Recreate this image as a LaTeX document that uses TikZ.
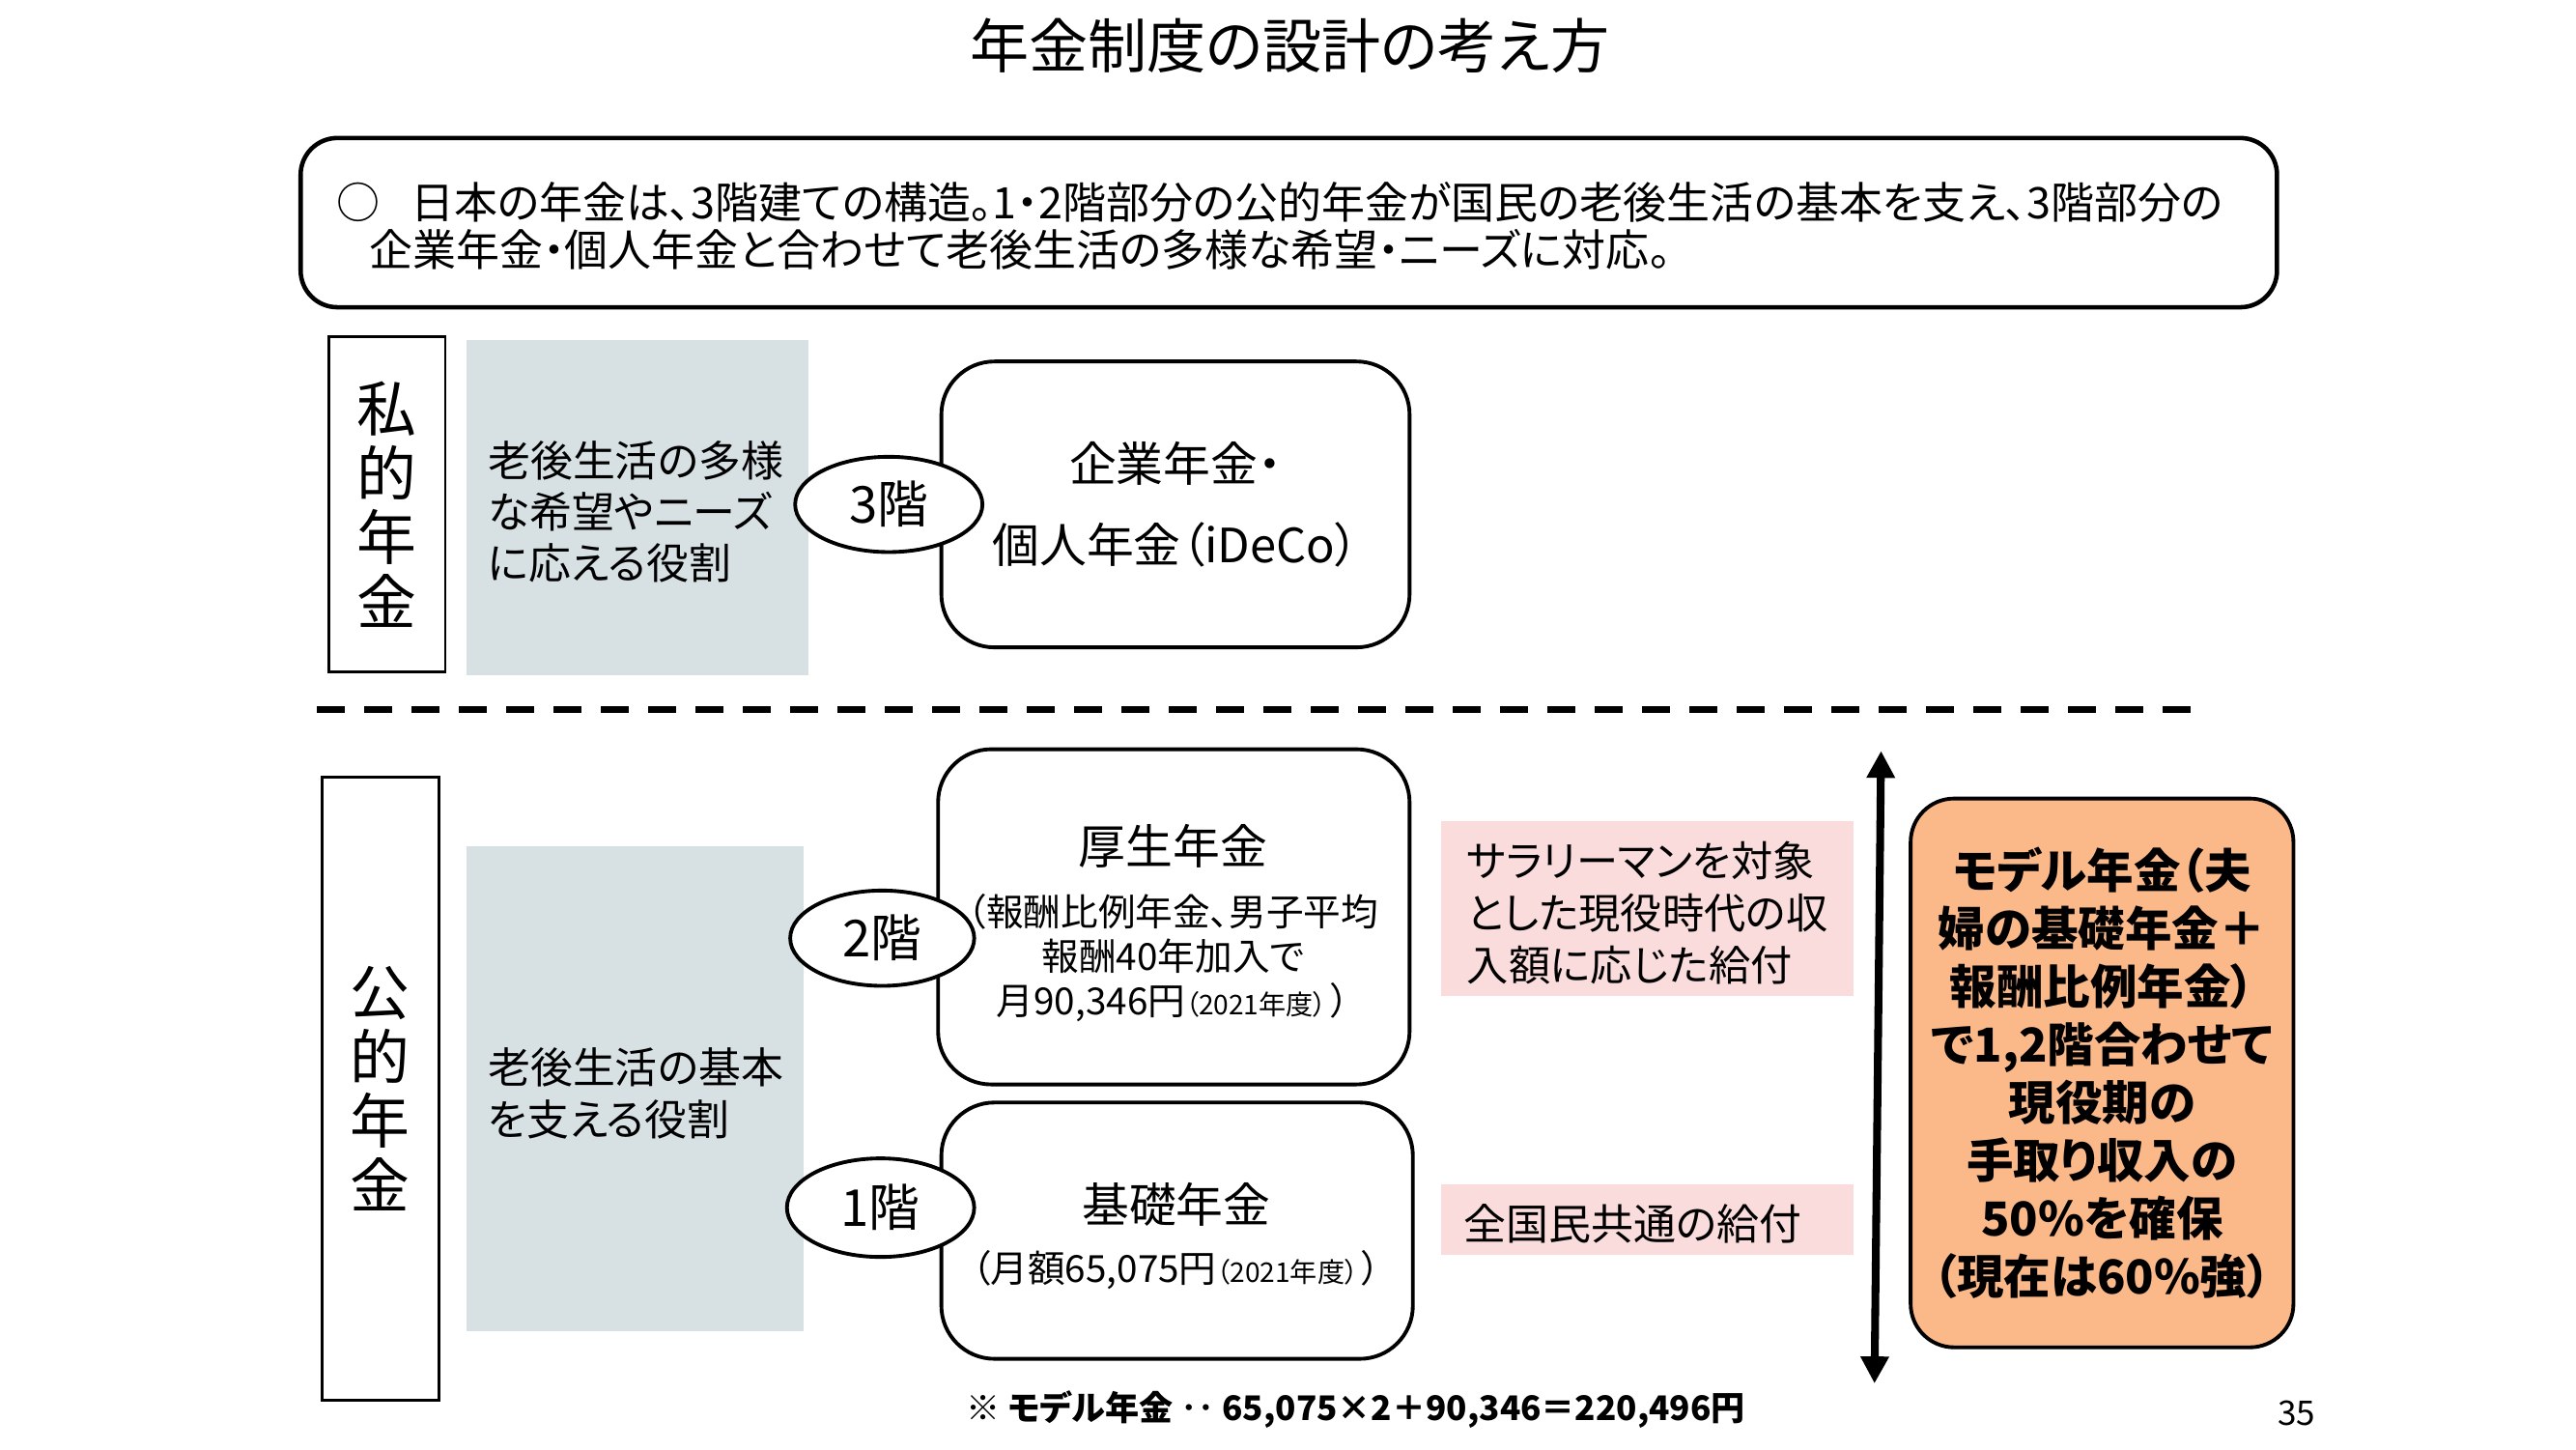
\documentclass[tikz,border=0pt]{standalone}
\usepackage{fontspec}
\setmainfont{Noto Sans CJK JP}[RawFeature=+palt]
\usetikzlibrary{shapes.geometric,arrows.meta}

\definecolor{rolegray}{RGB}{215,225,228}
\definecolor{notepink}{RGB}{250,220,220}
\definecolor{modelorange}{RGB}{251,185,138}

\newcommand{\un}{0.01701cm}
\newcommand{\setfs}[2]{\fontsize{#1}{#2}\selectfont}

\begin{document}
\begin{tikzpicture}[x=0.01701cm, y=-0.01701cm,
  every node/.style={inner sep=0pt, outer sep=0pt},
  overviewbox/.style={draw, line width=1.3pt, rounded corners=0.38cm, minimum width=1203*\un, minimum height=103*\un},
  pillar/.style={draw, line width=0.8pt, minimum width=71*\un, align=center, font=\setfs{17.6}{19}},
  rolebox/.style={fill=rolegray},
  roletext/.style={anchor=west, align=left, font=\setfs{12.5}{15.2}},
  tierbox/.style={draw, line width=1.1pt, rounded corners=0.55cm, fill=white},
  tiername/.style={font=\setfs{13.9}{16}},
  tierdetail/.style={align=center, font=\setfs{11}{13.1}},
  floor/.style={ellipse, draw, line width=1.1pt, fill=white, minimum width=114*\un, minimum height=58*\un, font=\setfs{15}{18}},
  notebox/.style={fill=notepink},
  modelbox/.style={draw, line width=1.1pt, rounded corners=0.45cm, fill=modelorange, minimum width=233*\un, minimum height=334*\un, align=center, font=\setfs{13.8}{17.1}\bfseries},
  dblarrow/.style={line width=2.3pt, {Triangle[width=0.28cm,length=0.28cm]}-{Triangle[width=0.28cm,length=0.28cm]}},
  divider/.style={line width=2pt, dash pattern=on 0.29cm off 0.2cm}]
\useasboundingbox (0,0) rectangle (1568,882);

% title and overview
\node[font=\setfs{17.4}{20}] (title) at (785,28) {年金制度の設計の考え方};
\node[overviewbox] (overview) at (784.5,135.5) {};
\node[anchor=west, align=left, font=\setfs{12.8}{14}] (overviewtext) at (205,137.5)
  {○\hspace{0.7em}日本の年金は、3階建ての構造。1・2階部分の公的年金が国民の老後生活の基本を支え、3階部分の\\\hspace{0.75em}企業年金・個人年金と合わせて老後生活の多様な希望・ニーズに対応。};

% private pension (3rd floor)
\node[pillar, minimum height=204*\un] (private) at (235.5,307) {私\\的\\年\\金};
\node[rolebox, minimum width=208*\un, minimum height=204*\un] (privaterole) at (388,309) {};
\node[roletext] (privateroletext) at (297,311.5) {老後生活の多様\\な希望やニーズ\\に応える役割};
\node[tierbox, minimum width=285*\un, minimum height=174*\un, align=center, font=\setfs{13.9}{23.7}] (tier3) at (715.5,307) {企業年金・\\個人年金（iDeCo）};
\node[floor] (floor3) at (541,307) {3階};

% divider
\coordinate (divL) at (193,432);
\coordinate (divR) at (1340,432);
\draw[divider] (divL) -- (divR);

% public pension (1st and 2nd floor)
\node[pillar, minimum height=379*\un] (public) at (231.5,662.5) {公\\的\\年\\金};
\node[rolebox, minimum width=205*\un, minimum height=295*\un] (publicrole) at (386.5,662.5) {};
\node[roletext] (publicroletext) at (297,665.5) {老後生活の基本\\を支える役割};

\node[tierbox, minimum width=287*\un, minimum height=204*\un] (tier2) at (714.5,558) {};
\node[tiername] (tier2name) at (714,515) {厚生年金};
\node[tierdetail] (tier2detail) at (714,583) {（報酬比例年金、男子平均\\報酬40年加入で\\月90,346円{\setfs{8}{9}（2021年度）}\hspace{0.1em}）};
\node[floor, minimum width=112*\un] (floor2) at (537,571) {2階};

\node[tierbox, minimum width=287*\un, minimum height=156*\un] (tier1) at (716.5,749) {};
\node[tiername] (tier1name) at (716,733) {基礎年金};
\node[tierdetail] (tier1detail) at (716,773) {（月額65,075円{\setfs{8}{9}（2021年度）}\hspace{0.1em}）};
\node[floor, minimum height=60*\un] (floor1) at (536,735) {1階};

% benefits
\node[notebox, minimum width=251*\un, minimum height=106*\un] (note2) at (1002.5,553) {};
\node[roletext, font=\setfs{12.3}{15.3}] (note2text) at (893,555.5) {サラリーマンを対象\\とした現役時代の収\\入額に応じた給付};
\node[notebox, minimum width=251*\un, minimum height=43*\un] (note1) at (1002.5,742.5) {};
\node[roletext] (note1text) at (891,745) {全国民共通の給付};

% model pension
\coordinate (spanTop) at (1145,457);
\coordinate (spanBot) at (1141,842);
\draw[dblarrow] (spanTop) -- (spanBot);
\node[modelbox] (model) at (1279.5,653) {モデル年金（夫\\婦の基礎年金＋\\報酬比例年金）\\で1,2階合わせて\\現役期の\\手取り収入の\\50\%を確保\\（現在は60\%強）};

\node[anchor=west, font=\setfs{10}{12}\bfseries] (footnote) at (588,858) {※ モデル年金 ‥ 65,075×2＋90,346＝220,496円};
\node[font=\setfs{10}{12}] (page) at (1398,860) {35};
\end{tikzpicture}
\end{document}
